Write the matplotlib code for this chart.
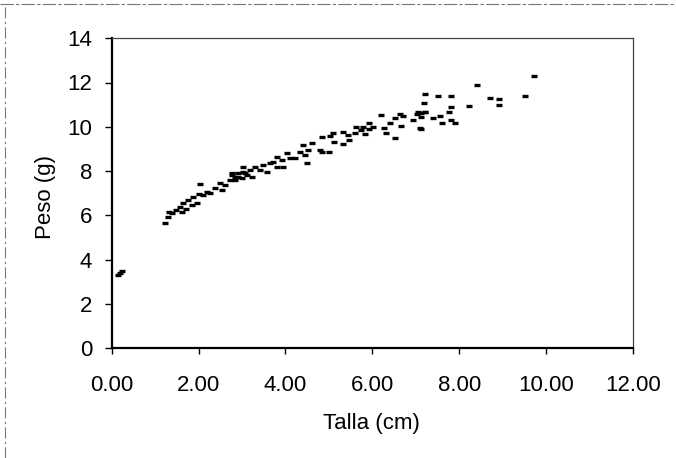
import matplotlib
matplotlib.use("Agg")
import matplotlib.pyplot as plt
from matplotlib.lines import Line2D

plt.rcParams['font.family'] = ['Liberation Sans', 'DejaVu Sans']

talla = [0.15, 0.23, 0.20,
         1.23, 1.30, 1.33, 1.38, 1.48, 1.57, 1.65, 1.71, 1.76, 1.84, 1.88, 2.00, 2.03, 2.11,
         2.19, 2.26, 2.38, 2.49, 2.53, 2.61, 2.72, 2.76, 2.84, 2.91, 3.03, 2.99, 3.11, 1.96, 1.61,
         2.76, 2.84, 2.91, 3.03, 3.07, 3.18, 3.22, 3.30, 3.41, 3.49, 3.57, 3.64, 3.72, 3.80,
         3.80, 3.91, 3.95, 4.03, 4.10, 4.22, 4.33, 4.41, 4.45, 4.52, 4.50, 4.60, 4.79,
         4.83, 4.83, 5.01, 5.02, 5.10, 5.12, 5.32, 5.33, 5.45, 5.47, 5.60, 5.62, 5.75, 5.79,
         5.83, 5.93, 5.93, 6.02, 6.21, 6.27, 6.31, 6.41, 6.52, 6.52, 6.64, 6.67, 6.71, 6.94,
         7.02, 7.06, 7.10, 7.21,
         7.21, 7.19, 7.13, 7.13, 7.21, 7.13, 7.40, 7.52, 7.56, 7.60, 7.81, 7.77, 7.81, 7.82,
         7.90, 8.23, 8.40, 8.71, 8.92, 8.92, 9.51, 9.73]
peso = [3.31, 3.50, 3.38,
        5.67, 5.94, 6.17, 6.09, 6.24, 6.39, 6.55, 6.28, 6.70, 6.47, 6.85, 6.97, 7.42, 6.92,
        7.07, 7.00, 7.22, 7.45, 7.15, 7.37, 7.60, 7.82, 7.75, 7.90, 7.97, 7.67, 7.82, 6.55, 6.17,
        7.90, 7.60, 7.75, 8.20, 7.90, 8.05, 7.72, 8.20, 8.05, 8.28, 7.97, 8.35, 8.42, 8.65,
        8.20, 8.50, 8.20, 8.80, 8.58, 8.58, 8.88, 9.18, 8.73, 8.95, 8.38, 9.28, 8.95,
        9.55, 8.88, 8.88, 9.58, 9.70, 9.30, 9.22, 9.78, 9.63, 9.40, 9.70, 9.98, 9.86, 10.00,
        9.68, 9.89, 10.19, 10.00, 10.53, 9.93, 9.73, 10.16, 9.48, 10.38, 10.58, 10.04, 10.49, 10.31,
        10.58, 10.68, 9.93, 10.68,
        11.48, 11.06, 10.61, 10.43, 10.68, 9.89, 10.38, 11.39, 10.49, 10.19, 11.39, 10.68, 10.91, 10.31,
        10.19, 10.94, 11.89, 11.29, 11.24, 10.98, 11.40, 12.30]

xticks = [0, 2, 4, 6, 8, 10, 12]
xticklabels = ["0.00", "2.00", "4.00", "6.00", "8.00", "10.00", "12.00"]
yticks = [0, 2, 4, 6, 8, 10, 12, 14]

W, H = 676, 458
fig = plt.figure(figsize=(W / 100, H / 100), dpi=100)
fig.patch.set_facecolor("white")
ax = fig.add_axes([111.7 / W, 1 - 348.3 / H, (633 - 111.7) / W, (348.3 - 38.2) / H])

ax.plot(talla, peso, linestyle="none", marker="_", markersize=4.8,
        markeredgewidth=2.4, color="black")

ax.set_xlim(0, 12)
ax.set_ylim(0, 14)
ax.set_xticks(xticks)
ax.set_xticklabels(xticklabels)
ax.set_yticks(yticks)
ax.tick_params(axis="x", direction="out", length=4, width=1, pad=15, labelsize=16)
ax.tick_params(axis="y", direction="out", length=5, width=1, pad=9, labelsize=16)

for s in ["left", "bottom"]:
    ax.spines[s].set_linewidth(1.6)
    ax.spines[s].set_color("black")
for s in ["top", "right"]:
    ax.spines[s].set_linewidth(0.9)
    ax.spines[s].set_color("#444444")

fig.text(371 / W, 1 - 424 / H, "Talla (cm)", ha="center", va="center", fontsize=16)
fig.text(45 / W, 1 - 197 / H, "Peso (g)", ha="center", va="center", fontsize=16,
         rotation=90)

# scanned border lines
fig.add_artist(Line2D([0.0, 1.0], [1 - 4 / H, 1 - 4 / H], transform=fig.transFigure,
                      color="#777777", lw=0.8, linestyle=(0, (12, 2, 3, 2))))
fig.add_artist(Line2D([5 / W, 5 / W], [0.0, 1 - 4 / H], transform=fig.transFigure,
                      color="#777777", lw=0.8, linestyle=(0, (10, 3, 2, 3))))

fig.savefig("out.png", dpi=100, facecolor="white")
